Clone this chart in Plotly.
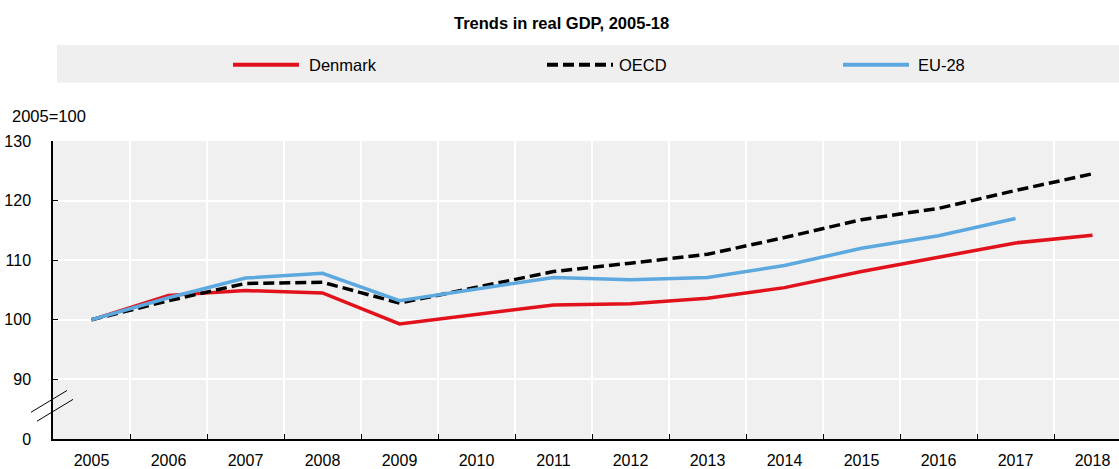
import plotly.graph_objects as go

years = [str(y) for y in range(2005, 2019)]
denmark = [100.0, 104.1, 104.9, 104.5, 99.3, 100.9, 102.5, 102.7, 103.6, 105.4, 108.1, 110.5, 112.9, 114.2]
oecd = [100.0, 103.2, 106.1, 106.3, 102.8, 105.5, 108.1, 109.5, 111.0, 113.8, 116.8, 118.7, 121.7, 124.5]
eu28 = [100.0, 103.7, 107.0, 107.8, 103.2, 105.2, 107.1, 106.7, 107.1, 109.1, 112.0, 114.1, 117.0, None]

ytick_vals = [80, 90, 100, 110, 120, 130]
ytick_text = ["0", "90", "100", "110", "120", "130"]

RED = "#E2121C"
BLUE = "#5DA9DF"
BLACK = "#000000"
FONT = "Liberation Sans, Arial, sans-serif"

# layout geometry (pixels)
FW, FH = 1119, 469
L, T, W, H = 53, 141, 1066, 301


def px2x(px):
    return (px - L) / W


def py2y(py):
    return (T + H - py) / H


fig = go.Figure()
fig.add_trace(go.Scatter(x=years, y=denmark, name="Denmark", mode="lines",
                         line=dict(color=RED, width=3.5), showlegend=False))
fig.add_trace(go.Scatter(x=years, y=oecd, name="OECD", mode="lines",
                         line=dict(color=BLACK, width=3.5, dash="11px,5px"), showlegend=False))
fig.add_trace(go.Scatter(x=years, y=eu28, name="EU-28", mode="lines",
                         line=dict(color=BLUE, width=3.5), showlegend=False))

shapes = []
annotations = []

# legend box
shapes.append(dict(type="rect", xref="paper", yref="paper",
                   x0=px2x(57), x1=px2x(1119), y0=py2y(82), y1=py2y(44),
                   fillcolor="#EFEFEF", line=dict(width=0), layer="below"))
leg_items = [("Denmark", RED, "solid", 233, 307),
             ("OECD", BLACK, "11px,5px", 547, 617),
             ("EU-28", BLUE, "solid", 843, 916)]
for name, col, dash, lx, tx in leg_items:
    shapes.append(dict(type="line", xref="paper", yref="paper",
                       x0=px2x(lx), x1=px2x(lx + 66), y0=py2y(64), y1=py2y(64),
                       line=dict(color=col, width=4, dash=dash)))
    annotations.append(dict(text=name, xref="paper", yref="paper", x=px2x(tx), y=py2y(64),
                            xanchor="left", yanchor="middle", showarrow=False,
                            font=dict(family=FONT, size=16.5, color="#000000")))

# axis break marks
for (x0, y0, x1, y1) in [(31, 415, 67, 393), (37, 424, 73, 402)]:
    shapes.append(dict(type="line", xref="paper", yref="paper",
                       x0=px2x(x0), y0=py2y(y0), x1=px2x(x1), y1=py2y(y1),
                       line=dict(color="#000000", width=1)))

# title
annotations.append(dict(text="<b>Trends in real GDP, 2005-18</b>", xref="paper", yref="paper",
                        x=px2x(561), y=py2y(22), xanchor="center", yanchor="middle",
                        showarrow=False, font=dict(family=FONT, size=16.5, color="#000000")))
# y unit label
annotations.append(dict(text="2005=100", xref="paper", yref="paper",
                        x=px2x(10), y=py2y(116), xanchor="left", yanchor="middle",
                        showarrow=False, font=dict(family=FONT, size=16.5, color="#000000")))

fig.update_layout(
    width=FW, height=FH,
    margin=dict(l=L, r=FW - L - W, t=T, b=FH - T - H, pad=0),
    paper_bgcolor="white",
    plot_bgcolor="#F0F0F0",
    shapes=shapes,
    annotations=annotations,
    showlegend=False,
    font=dict(family=FONT, size=16, color="#000000"),
)
fig.update_xaxes(
    type="category", categoryorder="array", categoryarray=years,
    range=[-0.5, 13.344],
    tickson="boundaries", ticks="inside", ticklen=5, tickcolor="#000000", tickwidth=1.3,
    showgrid=True, gridcolor="#FFFFFF", gridwidth=2,
    showline=True, linecolor="#000000", linewidth=1.5,
    tickfont=dict(family=FONT, size=16, color="#000000"),
    ticklabelstandoff=6,
    zeroline=False, fixedrange=True,
)
fig.update_yaxes(
    range=[80, 130],
    tickvals=ytick_vals, ticktext=ytick_text,
    ticks="inside", ticklen=5, tickcolor="#000000", tickwidth=1.3,
    showgrid=True, gridcolor="#FFFFFF", gridwidth=2,
    showline=True, linecolor="#000000", linewidth=1.5,
    tickfont=dict(family=FONT, size=16, color="#000000"),
    ticklabelstandoff=17,
    zeroline=False, fixedrange=True,
)

fig.write_html("out.html", config={"displayModeBar": False},
               post_script="document.body.style.margin='0';document.body.style.padding='0';")
